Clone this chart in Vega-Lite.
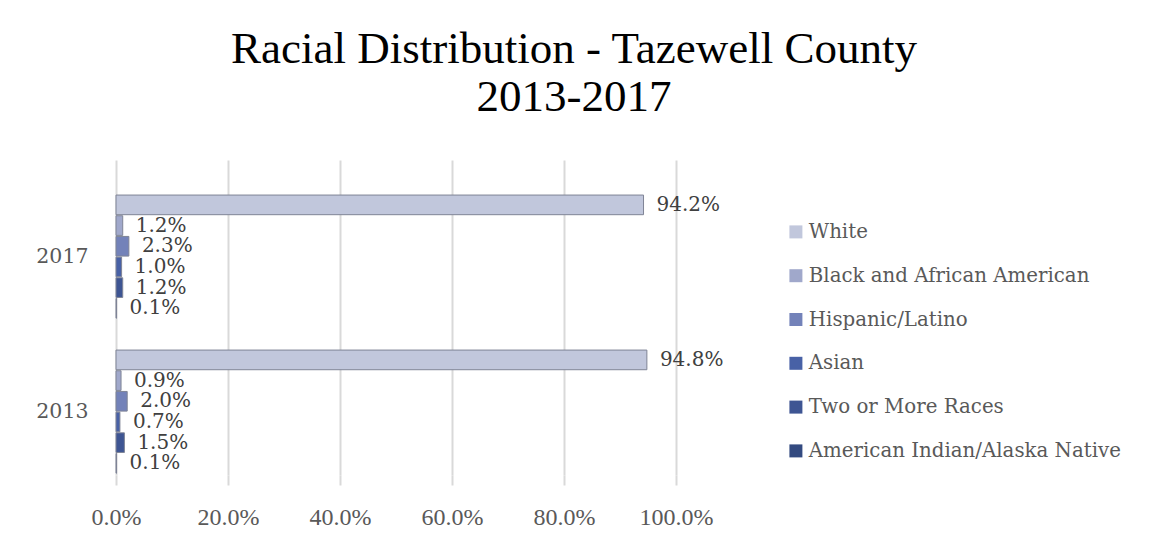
{
  "$schema": "https://vega.github.io/schema/vega-lite/v6.json",
  "autosize": {"type": "none"},
  "padding": {"left": 116, "top": 160, "right": 474, "bottom": 75},
  "width": 560,
  "height": 315,
  "background": "white",
  "title": {
    "text": ["Racial Distribution - Tazewell County", "2013-2017"],
    "fontSize": 45,
    "lineHeight": 48,
    "font": "Liberation Serif",
    "fontWeight": "normal",
    "color": "#000000",
    "anchor": "middle",
    "dx": 178,
    "offset": 40
  },
  "data": {
    "values": [
      {"year": "2017", "race": "White", "value": 0.942},
      {"year": "2017", "race": "Black and African American", "value": 0.012},
      {"year": "2017", "race": "Hispanic/Latino", "value": 0.023},
      {"year": "2017", "race": "Asian", "value": 0.010},
      {"year": "2017", "race": "Two or More Races", "value": 0.012},
      {"year": "2017", "race": "American Indian/Alaska Native", "value": 0.001},
      {"year": "2013", "race": "White", "value": 0.948},
      {"year": "2013", "race": "Black and African American", "value": 0.009},
      {"year": "2013", "race": "Hispanic/Latino", "value": 0.020},
      {"year": "2013", "race": "Asian", "value": 0.007},
      {"year": "2013", "race": "Two or More Races", "value": 0.015},
      {"year": "2013", "race": "American Indian/Alaska Native", "value": 0.001}
    ]
  },
  "encoding": {
    "y": {
      "field": "year",
      "type": "nominal",
      "sort": ["2017", "2013"],
      "scale": {"paddingInner": 0.206, "paddingOuter": 0.119, "align": 0.95},
      "axis": {
        "title": null,
        "domain": false,
        "ticks": false,
        "labelFont": "DejaVu Serif",
        "labelFontSize": 20.5,
        "labelColor": "#595959",
        "labelPadding": 28
      }
    },
    "yOffset": {
      "field": "race",
      "type": "nominal",
      "sort": ["White", "Black and African American", "Hispanic/Latino", "Asian", "Two or More Races", "American Indian/Alaska Native"],
      "scale": {"paddingInner": 0.05}
    },
    "x": {
      "field": "value",
      "type": "quantitative",
      "scale": {"domain": [0, 1]},
      "axis": {
        "title": null,
        "format": ".1%",
        "values": [0, 0.2, 0.4, 0.6, 0.8, 1],
        "domain": false,
        "ticks": true,
        "tickColor": "#d9d9d9",
        "tickSize": 10,
        "tickWidth": 2,
        "grid": true,
        "gridColor": "#d9d9d9",
        "gridWidth": 2,
        "labelFlush": false,
        "labelFont": "Liberation Serif",
        "labelFontSize": 24,
        "labelColor": "#595959",
        "labelPadding": 20
      }
    }
  },
  "layer": [
    {
      "mark": {"type": "bar", "stroke": "#7f8496", "strokeWidth": 1},
      "encoding": {
        "color": {
          "field": "race",
          "type": "nominal",
          "sort": ["White", "Black and African American", "Hispanic/Latino", "Asian", "Two or More Races", "American Indian/Alaska Native"],
          "scale": {
            "domain": ["White", "Black and African American", "Hispanic/Latino", "Asian", "Two or More Races", "American Indian/Alaska Native"],
            "range": ["#c1c7dc", "#a0a8cb", "#7382b9", "#4861a6", "#3e5593", "#334a80"]
          },
          "legend": {
            "title": null,
            "orient": "none",
            "legendX": 670,
            "legendY": 62,
            "symbolType": "square",
            "symbolSize": 169,
            "symbolStrokeWidth": 0,
            "labelFont": "DejaVu Serif",
            "labelFontSize": 19.8,
            "labelColor": "#595959",
            "labelLimit": 400,
            "rowPadding": 22.8,
            "labelOffset": 3
          }
        }
      }
    },
    {
      "mark": {"type": "text", "align": "left", "baseline": "middle", "dx": 13, "font": "DejaVu Serif", "fontSize": 20, "color": "#404040"},
      "encoding": {
        "text": {"field": "value", "type": "quantitative", "format": ".1%"}
      }
    }
  ],
  "config": {"view": {"stroke": null}}
}
